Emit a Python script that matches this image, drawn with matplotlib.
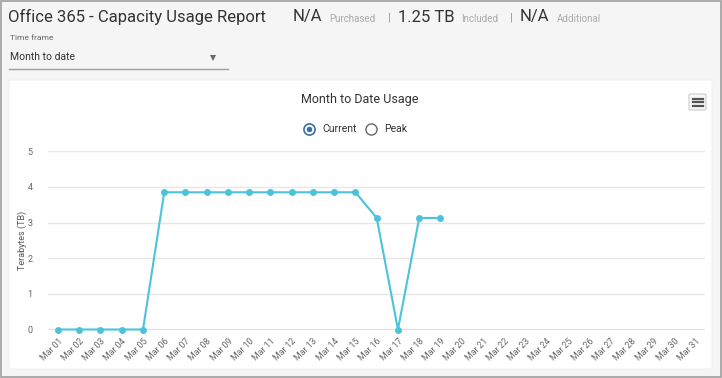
import matplotlib
matplotlib.use("Agg")
import matplotlib.pyplot as plt
from matplotlib.patches import Rectangle, FancyBboxPatch
from matplotlib.lines import Line2D

plt.rcParams['font.family'] = ['Roboto', 'DejaVu Sans']

# ---- data ----
days = [f"Mar {d:02d}" for d in range(1, 32)]
usage_days = days[:19]
usage_tb = [0, 0, 0, 0, 0, 3.85, 3.85, 3.85, 3.85, 3.85, 3.85, 3.85, 3.85, 3.85, 3.85,
            3.13, 0, 3.13, 3.13]
y_ticks = [0, 1, 2, 3, 4, 5]

header_title = "Office 365 - Capacity Usage Report"
stat_values = ["N/A", "1.25 TB", "N/A"]
stat_labels = ["Purchased", "Included", "Additional"]

W, H = 722, 378
fig = plt.figure(figsize=(W / 100, H / 100), dpi=100)
fig.patch.set_facecolor('#f5f5f5')

def fx(x):
    return x / W

def fy(y):
    return 1 - y / H

# outer border
fig.add_artist(Rectangle((fx(0.5), fy(376.5)), fx(720.5), 376 / H, transform=fig.transFigure,
                         fill=False, edgecolor='#9e9e9e', lw=1.2))
# card
fig.add_artist(FancyBboxPatch((fx(9), fy(369)), fx(703), 289 / H, transform=fig.transFigure,
                              boxstyle="round,pad=0,rounding_size=0.004",
                              facecolor='white', edgecolor='#eeeeee', lw=0.6, zorder=0))

# header
fig.text(fx(8), fy(17), header_title, fontsize=12, color='#333333', va='center', ha='left')
for val, x0 in zip(stat_values, [293, 398, 520]):
    fig.text(fx(x0), fy(17), val, fontsize=12, color='#333333', va='center', ha='left')
for lab, x0 in zip(stat_labels, [329, 461, 557]):
    fig.text(fx(x0), fy(18.5), lab, fontsize=7, color='#aaaaaa', va='center', ha='left')
for x0 in [389, 511]:
    fig.text(fx(x0), fy(18), "|", fontsize=8, color='#888888', va='center', ha='center')

fig.text(fx(10), fy(38), "Time frame", fontsize=6, color='#666666', va='center', ha='left')
fig.text(fx(10), fy(57), "Month to date", fontsize=7.5, color='#333333', va='center', ha='left')
fig.add_artist(Line2D([fx(213)], [fy(57.5)], transform=fig.transFigure, marker='v',
                      markersize=4, color='#666666', markeredgewidth=0, lw=0))
fig.add_artist(Line2D([fx(9), fx(228)], [fy(68.5), fy(68.5)], transform=fig.transFigure,
                      color='#9e9e9e', lw=1))

# chart title and radio legend
fig.text(fx(360), fy(100), "Month to Date Usage", fontsize=9, color='#333333', va='center', ha='center')
fig.add_artist(Line2D([fx(309)], [fy(129)], transform=fig.transFigure, marker='o', markersize=8,
                      markerfacecolor='white', markeredgecolor='#3a6ea5', markeredgewidth=1.2, lw=0))
fig.add_artist(Line2D([fx(309)], [fy(129)], transform=fig.transFigure, marker='o', markersize=4,
                      markerfacecolor='#3a6ea5', markeredgewidth=0, lw=0))
fig.text(fx(322), fy(129), "Current", fontsize=7.5, color='#333333', va='center', ha='left')
fig.add_artist(Line2D([fx(371)], [fy(129)], transform=fig.transFigure, marker='o', markersize=8,
                      markerfacecolor='white', markeredgecolor='#666666', markeredgewidth=1.0, lw=0))
fig.text(fx(384), fy(129), "Peak", fontsize=7.5, color='#333333', va='center', ha='left')

# menu icon
fig.add_artist(FancyBboxPatch((fx(689), fy(110)), fx(17), 16 / H, transform=fig.transFigure,
                              boxstyle="round,pad=0,rounding_size=0.003",
                              facecolor='#f7f7f7', edgecolor='#cccccc', lw=0.8))
for yy in [98.5, 102, 105.5]:
    fig.add_artist(Line2D([fx(692.5), fx(702.5)], [fy(yy), fy(yy)], transform=fig.transFigure,
                          color='#555555', lw=1.6))

# axes
left, right = 48, 705
top, bottom = 151.3, 329.5
ax = fig.add_axes([fx(left), fy(bottom), (right - left) / W, (bottom - top) / H])
ax.set_facecolor('none')
xpos = list(range(len(days)))
ax.plot(xpos[:len(usage_tb)], usage_tb, color='#4cc3db', lw=1.5, marker='o', markersize=5,
        markeredgewidth=0, zorder=3, clip_on=False)
ax.set_xlim(-0.47, 30.45)
ax.set_ylim(0, 5)
ax.set_yticks(y_ticks)
ax.set_yticklabels([str(v) for v in y_ticks], fontsize=6.5, color='#666666')
ax.set_xticks(xpos)
ax.set_xticklabels(days, rotation=45, ha='right', rotation_mode='anchor', fontsize=6.3,
                   color='#666666')
ax.tick_params(axis='both', length=0)
ax.tick_params(axis='y', pad=11)
ax.tick_params(axis='x', pad=5)
for s in ax.spines.values():
    s.set_visible(False)
ax.grid(axis='y', color='#e6e6e6', lw=1)
ax.set_axisbelow(True)
ax.axhline(0, color='#e0e0e0', lw=1.5, zorder=1)
ax.set_ylabel("Terabytes (TB)", fontsize=6.5, color='#555555')
ax.yaxis.set_label_coords((27 - left) / (right - left), 0.5)

fig.savefig("out.png", dpi=100, facecolor=fig.get_facecolor())
